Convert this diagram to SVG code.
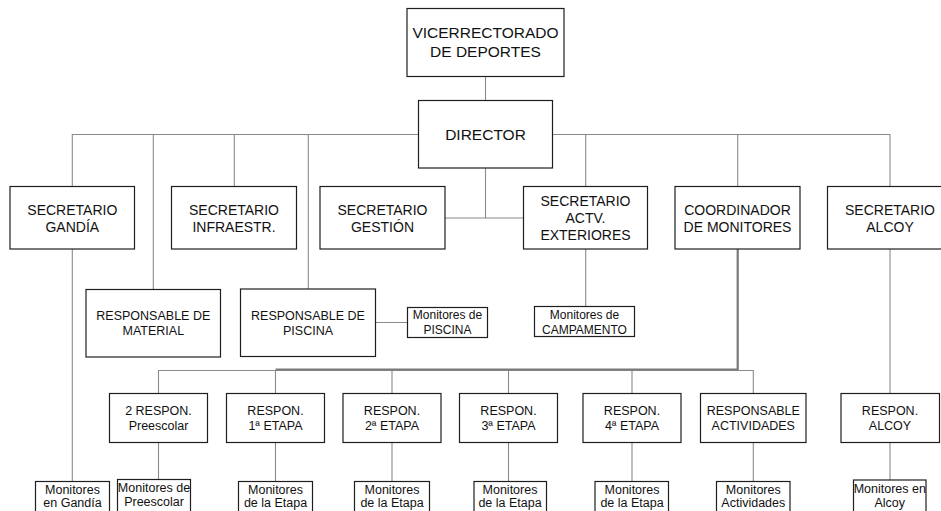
<svg xmlns="http://www.w3.org/2000/svg" width="941" height="511" viewBox="0 0 941 511">
<style>
.box{fill:#fff;stroke:#1e1e1e;stroke-width:1.2}
.c{fill:none;stroke:#8a8a8a;stroke-width:1.1}
.thick{fill:none;stroke:#7a7a7a;stroke-width:2.2}
text{font-family:"Liberation Sans",Arial,sans-serif;fill:#111;text-anchor:middle}
.t155{font-size:15.5px}
.t14{font-size:14px}
.t125{font-size:12.5px}
.t12{font-size:12px}
</style>
<rect width="941" height="511" fill="#fff"/>
<g id="connectors">
<path class="c" d="M485.5 76.5V100.5"/>
<path class="c" d="M72.3 186.5V134.5H418.5M552.5 134.5H890V186.5"/>
<path class="c" d="M153.3 134.5V289.5M234.3 134.5V186.5M308.3 134.5V289M585.7 134.5V186.5M737.7 134.5V186.5"/>
<path class="c" d="M485.5 168V218M445 218H523.5"/>
<path class="c" d="M72.3 249V481.5"/>
<path class="c" d="M375.5 322.5H407.5"/>
<path class="c" d="M585.7 249V306.5"/>
<path class="c" d="M158.5 393.5V370.5H753.3V393.5M275.5 370.5V393.5M392 370.5V393.5M508.5 370.5V393.5M632 370.5V393.5"/>
<path class="thick" d="M737.7 249V369.5H275.5"/>
<path class="c" d="M890 249V393.5"/>
<path class="c" d="M158.5 442.5V479.5M275.5 442.5V481.5M392 442.5V481.5M508.5 442.5V481.5M632 442.5V481.5M753.3 442.5V481.5M890 442.5V480"/>
</g>
<g id="vicerrectorado"><rect class="box" x="407" y="8.5" width="157" height="68"/><text class="t155" x="485.5" y="38.3">VICERRECTORADO</text><text class="t155" x="485.5" y="56.7">DE DEPORTES</text></g>
<g id="director"><rect class="box" x="418.5" y="100.5" width="134" height="67.5"/><text class="t155" x="485.5" y="140">DIRECTOR</text></g>
<g id="sec-gandia"><rect class="box" x="10" y="186.5" width="124.5" height="62.5"/><text class="t14" x="72.3" y="215">SECRETARIO</text><text class="t14" x="72.3" y="231.5">GANDÍA</text></g>
<g id="sec-infraestr"><rect class="box" x="171.5" y="186.5" width="125" height="62.5"/><text class="t14" x="234" y="215">SECRETARIO</text><text class="t14" x="234" y="231.5">INFRAESTR.</text></g>
<g id="sec-gestion"><rect class="box" x="320" y="186.5" width="125" height="62.5"/><text class="t14" x="382.5" y="215">SECRETARIO</text><text class="t14" x="382.5" y="231.5">GESTIÓN</text></g>
<g id="sec-actv"><rect class="box" x="523.5" y="186.5" width="124" height="62.5"/><text class="t14" x="585.5" y="205.5">SECRETARIO</text><text class="t14" x="585.5" y="223">ACTV.</text><text class="t14" x="585.5" y="240">EXTERIORES</text></g>
<g id="coordinador"><rect class="box" x="675" y="186.5" width="125" height="62.5"/><text class="t14" x="737.5" y="215">COORDINADOR</text><text class="t14" x="737.5" y="231.5">DE MONITORES</text></g>
<g id="sec-alcoy"><rect class="box" x="827.5" y="186.5" width="125" height="62.5"/><text class="t14" x="890" y="215">SECRETARIO</text><text class="t14" x="890" y="231.5">ALCOY</text></g>
<g id="resp-material"><rect class="box" x="86" y="289.5" width="134.5" height="67.5"/><text class="t125" x="153.3" y="320">RESPONSABLE DE</text><text class="t125" x="153.3" y="335">MATERIAL</text></g>
<g id="resp-piscina"><rect class="box" x="240.5" y="289" width="135" height="67.5"/><text class="t125" x="308" y="319.5">RESPONSABLE DE</text><text class="t125" x="308" y="335">PISCINA</text></g>
<g id="mon-piscina"><rect class="box" x="407.5" y="307.5" width="80" height="30"/><text class="t12" x="447.5" y="319">Monitores de</text><text class="t12" x="447.5" y="334">PISCINA</text></g>
<g id="mon-campamento"><rect class="box" x="534.5" y="306.5" width="100" height="30"/><text class="t12" x="584.5" y="318.5">Monitores de</text><text class="t12" x="584.5" y="333.5">CAMPAMENTO</text></g>
<g id="resp-preescolar"><rect class="box" x="109.5" y="393.5" width="98" height="49"/><text class="t125" x="158.5" y="414.5">2 RESPON.</text><text class="t125" x="158.5" y="429.5">Preescolar</text></g>
<g id="resp-etapa1"><rect class="box" x="226.5" y="393.5" width="98" height="49"/><text class="t125" x="275.5" y="414.5">RESPON.</text><text class="t125" x="275.5" y="429.5">1ª ETAPA</text></g>
<g id="resp-etapa2"><rect class="box" x="343" y="393.5" width="98" height="49"/><text class="t125" x="392" y="414.5">RESPON.</text><text class="t125" x="392" y="429.5">2ª ETAPA</text></g>
<g id="resp-etapa3"><rect class="box" x="459.5" y="393.5" width="98" height="49"/><text class="t125" x="508.5" y="414.5">RESPON.</text><text class="t125" x="508.5" y="429.5">3ª ETAPA</text></g>
<g id="resp-etapa4"><rect class="box" x="583" y="393.5" width="98" height="49"/><text class="t125" x="632" y="414.5">RESPON.</text><text class="t125" x="632" y="429.5">4ª ETAPA</text></g>
<g id="resp-actividades"><rect class="box" x="700.5" y="393.5" width="105.5" height="49"/><text class="t125" x="753.3" y="414.5">RESPONSABLE</text><text class="t125" x="753.3" y="429.5">ACTIVIDADES</text></g>
<g id="resp-alcoy"><rect class="box" x="841" y="393.5" width="98.5" height="49"/><text class="t125" x="890" y="414.5">RESPON.</text><text class="t125" x="890" y="429.5">ALCOY</text></g>
<g id="mon-gandia"><rect class="box" x="35.5" y="481.5" width="74" height="40"/><text class="t125" x="72.5" y="493.5">Monitores</text><text class="t125" x="72.5" y="507">en Gandía</text></g>
<g id="mon-preescolar"><rect class="box" x="117.5" y="479.5" width="73" height="42"/><text class="t125" x="154" y="492">Monitores de</text><text class="t125" x="154" y="506">Preescolar</text></g>
<g id="mon-etapa1"><rect class="box" x="238.5" y="481.5" width="74" height="40"/><text class="t125" x="275.5" y="493.5">Monitores</text><text class="t125" x="275.5" y="507">de la Etapa</text></g>
<g id="mon-etapa2"><rect class="box" x="354.5" y="481.5" width="75" height="40"/><text class="t125" x="392" y="493.5">Monitores</text><text class="t125" x="392" y="507">de la Etapa</text></g>
<g id="mon-etapa3"><rect class="box" x="474" y="481.5" width="72.5" height="40"/><text class="t125" x="510" y="493.5">Monitores</text><text class="t125" x="510" y="507">de la Etapa</text></g>
<g id="mon-etapa4"><rect class="box" x="595" y="481.5" width="73.5" height="40"/><text class="t125" x="632" y="493.5">Monitores</text><text class="t125" x="632" y="507">de la Etapa</text></g>
<g id="mon-actividades"><rect class="box" x="716.5" y="481.5" width="73.5" height="40"/><text class="t125" x="753.3" y="493.5">Monitores</text><text class="t125" x="753.3" y="507">Actividades</text></g>
<g id="mon-alcoy"><rect class="box" x="853.5" y="480" width="72.5" height="42"/><text class="t125" x="889.8" y="493">Monitores en</text><text class="t125" x="889.8" y="507">Alcoy</text></g>
</svg>
